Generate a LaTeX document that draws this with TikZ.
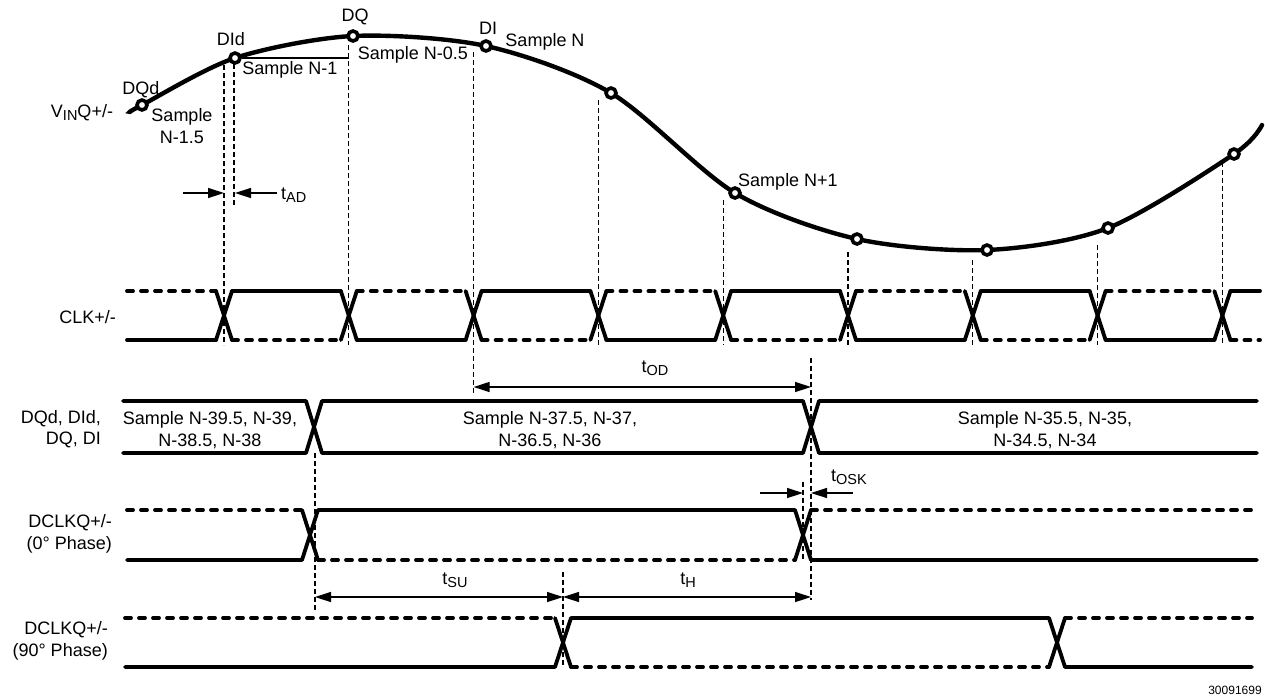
\documentclass[tikz,border=0pt]{standalone}
\usepackage{fontspec}
\setmainfont{Liberation Sans}
\usetikzlibrary{arrows.meta,positioning}

\def\clkper{124.8}
\newcommand{\lowsub}[1]{\raisebox{-0.3ex}{\fontsize{14.5}{14.5}\selectfont #1}}

\begin{document}
\begin{tikzpicture}[x=1pt,y=-1pt,font=\fontsize{18}{21.5}\selectfont]
  \tikzstyle{signal}=[line width=3.8pt,line cap=round,line join=round]
  \tikzstyle{dashed signal}=[signal,dash pattern=on 6pt off 8pt]
  \tikzstyle{curve}=[line width=4.4pt,line cap=round]
  \tikzstyle{guide}=[line width=1.2pt,dash pattern=on 5pt off 3pt]
  \tikzstyle{sample}=[circle,draw,line width=3.6pt,fill=white,minimum size=10pt,inner sep=0pt]
  \tikzstyle{timing}=[line width=1.4pt,-{Triangle[length=16pt,width=10pt]}]
  \tikzstyle{span}=[line width=1.4pt,{Triangle[length=16pt,width=10pt]}-{Triangle[length=16pt,width=10pt]}]
  \tikzstyle{annot}=[inner sep=0pt,align=center]
  \tikzstyle{side}=[inner sep=0pt,align=right,anchor=east]

  \useasboundingbox (0,0) rectangle (1265,697);

  % Draw the input waveform
  \draw[curve] plot[smooth] coordinates {(130,112) (142,105) (235,58) (353,36)
    (486,46) (611,93) (735,193) (857,239) (987,250) (1108,228) (1234,154) (1262,125)};

  % Draw the sample points
  \foreach \name/\x/\y in {1/142/105,2/235/58,3/353/36,4/486/46,5/611/93,
    6/735/193,7/857/239,8/987/250,9/1108/228,10/1234/154}
  \node[sample] (S-\name) at (\x,\y) {};

  \draw[line width=1.2pt] (S-2.east) -- (349,58);

  % Sample labels
  \node[annot] (vin) at (82,113) {V\lowsub{IN}Q+/-};
  \node[annot] (l-dqd) at (141,90) {DQd};
  \node[annot] (l-s1) at (182,126) {Sample\\N-1.5};
  \node[annot] (l-did) at (231,39) {DId};
  \node[annot] (l-s2) at (290,70) {Sample N-1};
  \node[annot] (l-dq) at (355,17) {DQ};
  \node[annot] (l-s3) at (413,55) {Sample N-0.5};
  \node[annot] (l-di) at (488,28) {DI};
  \node[annot] (l-s4) at (545,42) {Sample N};
  \node[annot] (l-s6) at (788,182) {Sample N+1};

  % Guides from the clock edges
  \foreach \k/\ytop in {0/65,1/45,3/100,4/200,5/252,6/260,7/245,8/162}
  \draw[guide] (224+\clkper*\k,\ytop) -- (224+\clkper*\k,345);
  \draw[guide] (473.6,52) -- (473.6,395);
  \draw[guide] (234,64) -- (234,205);

  % Aperture delay
  \coordinate (ad-a) at (183,193);
  \coordinate (ad-b) at (224,193);
  \coordinate (ad-c) at (277,193);
  \coordinate (ad-d) at (235,193);
  \draw[timing] (ad-a) -- (ad-b);
  \draw[timing] (ad-c) -- (ad-d);
  \node[annot,anchor=west] (l-tad) at (281,195) {t\lowsub{AD}};

  % Draw the clock row
  \node[side] (l-clk) at (116,317) {CLK+/-};
  \foreach \k in {0,...,8} {
    \pgfmathsetmacro\cx{224+\clkper*\k}
    \draw[signal] (\cx-8,291) -- (\cx+8,340);
    \draw[signal] (\cx-8,340) -- (\cx+8,291);
  }
  \foreach \k in {0,...,9} {
    \pgfmathsetmacro\xa{\k==0 ? 127 : 224+\clkper*(\k-1)+8}
    \pgfmathsetmacro\xb{\k==9 ? 1260 : 224+\clkper*\k-8}
    \ifodd\k
      \draw[signal] (\xa,291) -- (\xb,291);
      \draw[dashed signal] (\xa,340) -- (\xb,340);
    \else
      \draw[dashed signal] (\xa,291) -- (\xb,291);
      \draw[signal] (\xa,340) -- (\xb,340);
    \fi
  }

  % Output delay
  \coordinate (od-a) at (473.6,387);
  \coordinate (od-b) at (811,387);
  \draw[span] (od-a) -- (od-b);
  \node[annot] (l-tod) at (655,368) {t\lowsub{OD}};

  % Draw the data row
  \node[side] (l-data) at (101,429) {DQd, DId,\\DQ, DI};
  \draw[signal] (123,401) -- (306,401) -- (322,453) -- (803,453) -- (819,401) -- (1257,401);
  \draw[signal] (123,453) -- (306,453) -- (322,401) -- (803,401) -- (819,453) -- (1257,453);
  \node[annot] (d-1) at (210,430) {Sample N-39.5, N-39,\\N-38.5, N-38};
  \node[annot] (d-2) at (550,430) {Sample N-37.5, N-37,\\N-36.5, N-36};
  \node[annot] (d-3) at (1045,430) {Sample N-35.5, N-35,\\N-34.5, N-34};

  \draw[guide] (811,358) -- (811,600);
  \draw[guide] (315,453) -- (315,610);

  % Output skew
  \coordinate (sk-a) at (760,493);
  \coordinate (sk-b) at (803,493);
  \coordinate (sk-c) at (853,493);
  \coordinate (sk-d) at (811,493);
  \draw[timing] (sk-a) -- (sk-b);
  \draw[timing] (sk-c) -- (sk-d);
  \draw[guide] (803,482) -- (803,560);
  \node[annot] (l-tosk) at (849,477) {t\lowsub{OSK}};

  % Draw the DCLK row, 0 degrees
  \node[side] (l-dclk0) at (112,534) {DCLKQ+/-\\(0° Phase)};
  \draw[dashed signal] (127,510) -- (302,510);
  \draw[signal] (127,560) -- (302,560) -- (318,510) -- (795,510) -- (811,560) -- (1257,560);
  \draw[signal] (302,510) -- (318,560);
  \draw[dashed signal] (318,560) -- (795,560);
  \draw[signal] (795,560) -- (811,510);
  \draw[dashed signal] (811,510) -- (1257,510);

  % Setup and hold
  \coordinate (su-a) at (315,597);
  \coordinate (su-b) at (563,597);
  \coordinate (h-b) at (811,597);
  \draw[span] (su-a) -- (su-b);
  \draw[span] (su-b) -- (h-b);
  \draw[guide] (563,572) -- (563,667);
  \node[annot] (l-tsu) at (455,580) {t\lowsub{SU}};
  \node[annot] (l-th) at (688,580) {t\lowsub{H}};

  % Draw the DCLK row, 90 degrees
  \node[side] (l-dclk90) at (108,641) {DCLKQ+/-\\(90° Phase)};
  \draw[dashed signal] (125,618) -- (555,618);
  \draw[signal] (125,667) -- (555,667) -- (571,618) -- (1049,618) -- (1065,667) -- (1252,667);
  \draw[signal] (555,618) -- (571,667);
  \draw[dashed signal] (571,667) -- (1049,667);
  \draw[signal] (1049,667) -- (1065,618);
  \draw[dashed signal] (1065,618) -- (1252,618);

  \node[annot,font=\fontsize{12}{12}\selectfont] (fig-id) at (1235,690) {30091699};
\end{tikzpicture}
\end{document}
